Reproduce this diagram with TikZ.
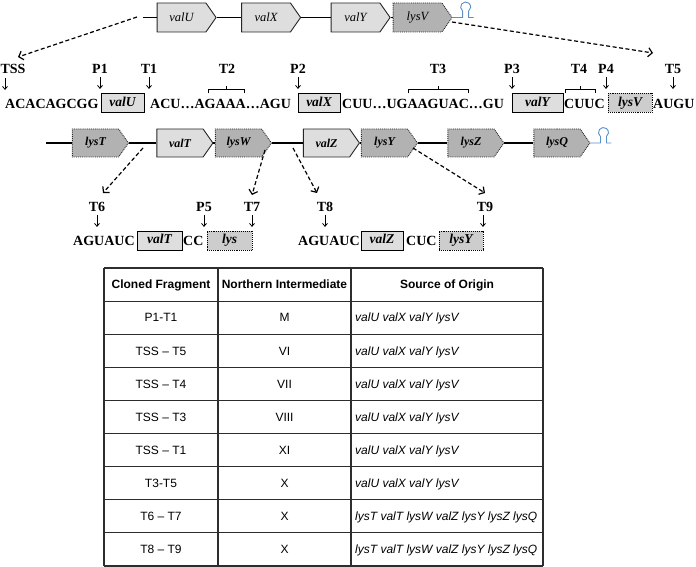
\documentclass[tikz,border=0pt]{standalone}
\usepackage{fontspec}
\setmainfont{Liberation Serif}
\newfontfamily\arialf{Liberation Sans}
\usetikzlibrary{shapes.symbols,arrows.meta}
\definecolor{valfill}{RGB}{222,222,222}
\definecolor{lysfill}{RGB}{178,178,178}
\definecolor{lysfilltwo}{RGB}{205,205,205}
\definecolor{hpblue}{RGB}{91,142,201}
\definecolor{tabline}{RGB}{45,45,45}
\tikzset{
 gene/.style={signal, signal to=east, signal pointer angle=110, minimum height=29pt, minimum width=59pt, inner sep=0pt, line width=0.9pt, draw=black!85},
 valgene/.style={gene, fill=valfill},
 lysgene/.style={gene, fill=lysfill, densely dotted},
 topfont/.style={font=\fontsize{12.5}{14}\selectfont\itshape},
 midfont/.style={font=\fontsize{12}{14}\selectfont\bfseries\itshape, minimum height=28pt, minimum width=56pt},
 seq/.style={anchor=west, inner sep=0pt, font=\fontsize{14}{16}\selectfont\bfseries, text height=9.5pt, text depth=0pt},
 lbl/.style={inner sep=1pt, font=\fontsize{14}{16}\selectfont\bfseries, text height=9.5pt, text depth=0pt},
 sbox/.style={draw, line width=0.9pt, minimum height=19pt, inner sep=0pt, font=\fontsize{13.5}{16}\selectfont\bfseries\itshape, text height=9pt, text depth=2.5pt},
 valbox/.style={sbox, fill=valfill},
 lysbox/.style={sbox, fill=lysfilltwo, densely dotted},
 dna/.style={line width=1.3pt},
 darr/.style={line width=0.8pt, -{Straight Barb[length=3pt,width=5pt]}},
 dasharr/.style={line width=1.2pt, dash pattern=on 4pt off 2.5pt, -{Straight Barb[length=4pt,width=9pt]}},
 brk/.style={line width=1pt},
 tab/.style={line width=1.1pt, draw=tabline},
 tabtxt/.style={inner sep=0pt, font=\arialf\fontsize{12}{14}\selectfont, text height=8.6pt, text depth=0pt},
 tabhead/.style={tabtxt, font=\arialf\fontsize{12}{14}\selectfont\bfseries},
 tabsrc/.style={tabtxt, anchor=west, font=\arialf\fontsize{12}{14}\selectfont\itshape},
 hairpin/.pic={\draw[hpblue, line width=0.9pt] (0,0) -- (10,0) -- (10,-6.5) arc[start angle=233.13, end angle=-53.13, radius=5pt] -- (16,0) -- (21,0);}
}
\begin{document}
\begin{tikzpicture}[x=1pt,y=-1pt]
\useasboundingbox (0,0) rectangle (696,567);
% ---- top operon ----
\node[valgene, topfont] (gU) at (181.5,17.5) {valU};
\node[valgene, topfont] (gX) at (266,17.5) {valX};
\node[valgene, topfont] (gY) at (355.5,17.5) {valY};
\node[lysgene, topfont] (gV) at (417.5,17.5) {lysV};
\coordinate (L0) at (143,17.5);
\draw[dna] (L0) -- (gU.west);
\draw[dna] (gU.east) -- (gX.west);
\draw[dna] (gX.east) -- (gY.west);
\draw[dna] (gY.east) -- (gV.west);
\pic at (gV.east) {hairpin};
% ---- row 2 labels ----
\node[lbl] (TSS) at (13,69) {TSS};
\node[lbl] (P1) at (100,69) {P1};
\node[lbl] (T1) at (149,69) {T1};
\node[lbl] (T2) at (227,69) {T2};
\node[lbl] (P2) at (298,69) {P2};
\node[lbl] (T3) at (438,69) {T3};
\node[lbl] (P3) at (512,69) {P3};
\node[lbl] (T4) at (579,69) {T4};
\node[lbl] (P4) at (606,69) {P4};
\node[lbl] (T5) at (673,69) {T5};
% ---- row 2 sequence ----
\node[seq] (s1) at (5,103.5) {ACACAGCGG};
\node[valbox, minimum width=43pt] (b1) at (122.5,103) {valU};
\node[seq] (s2) at (150,103.5) {ACU…AGAAA…AGU};
\node[valbox, minimum width=42pt] (b2) at (319,103) {valX};
\node[seq] (s3) at (342,103.5) {CUU…UGAAGUAC…GU};
\node[valbox, minimum width=51pt] (b3) at (537.5,103) {valY};
\node[seq] (s4) at (564,103.5) {CUUC};
\node[lysbox, minimum width=44pt] (b4) at (630,103) {lysV};
\node[seq] (s5) at (653,103.5) {AUGU};
% down arrows row 2
\draw[darr] (5,78) -- (5,90);
\draw[darr] (P1.south) ++(0,2) -- ++(0,12);
\draw[darr] (T1.south) ++(0,2) -- ++(0,12);
\draw[darr] (P2.south) ++(0,2) -- ++(0,12);
\draw[darr] (P3.south) ++(0,2) -- ++(0,12);
\draw[darr] (P4.south) ++(0,2) -- ++(0,12);
\draw[darr] (T5.south) ++(0,2) -- ++(0,12);
% brackets
\draw[brk] (208,93.5) -- (208,89.5) -- (244,89.5) -- (244,93.5);
\draw[brk] (226,89.5) -- (226,86.5);
\draw[brk] (408,93.5) -- (408,89.5) -- (468,89.5) -- (468,93.5);
\draw[brk] (438,89.5) -- (438,86.5);
\draw[brk] (565,93.5) -- (565,89.5) -- (595,89.5) -- (595,93.5);
\draw[brk] (580,89.5) -- (580,86.5);
% dashed arrows top
\coordinate (a1s) at (137,17);
\coordinate (a1e) at (18,57);
\draw[dasharr] (a1s) -- (a1e);
\coordinate (a2s) at (452,22);
\coordinate (a2e) at (653,53);
\draw[dasharr] (a2s) -- (a2e);
% ---- row 3 operon ----
\node[lysgene, midfont] (hT) at (95.5,143) {lysT};
\node[valgene, midfont] (tT) at (180,143) {valT};
\node[lysgene, midfont] (hW) at (238.5,143) {lysW};
\node[valgene, midfont] (tZ) at (326.5,143) {valZ};
\node[lysgene, midfont] (hY) at (384.5,143) {lysY};
\node[lysgene, midfont] (hZ) at (471,143) {lysZ};
\node[lysgene, midfont] (hQ) at (557,143) {lysQ};
\coordinate (L1) at (46,143);
\draw[dna] (L1) -- (hT.west);
\draw[dna] (hT.east) -- (tT.west);
\draw[dna] (tT.east) -- (hW.west);
\draw[dna] (hW.east) -- (tZ.west);
\draw[dna] (tZ.east) -- (hY.west);
\draw[dna] (hY.east) -- (hZ.west);
\draw[dna] (hZ.east) -- (hQ.west);
\pic at (hQ.east) {hairpin};
% dashed arrows row 3
\coordinate (b1s) at (143,148); \coordinate (b1e) at (103,193);
\coordinate (b2s) at (265,150); \coordinate (b2e) at (252,195);
\coordinate (b3s) at (293,148); \coordinate (b3e) at (317,193);
\coordinate (b4s) at (413,148); \coordinate (b4e) at (485,193);
\draw[dasharr] (b1s) -- (b1e);
\draw[dasharr] (b2s) -- (b2e);
\draw[dasharr] (b3s) -- (b3e);
\draw[dasharr] (b4s) -- (b4e);
% ---- row 4 labels ----
\node[lbl] (T6) at (97,207) {T6};
\node[lbl] (P5) at (204,207) {P5};
\node[lbl] (T7) at (252,207) {T7};
\node[lbl] (T8) at (325,207) {T8};
\node[lbl] (T9) at (485,207) {T9};
\draw[darr] (T6.south) ++(0,2) -- ++(0,12);
\draw[darr] (P5.south) ++(0,2) -- ++(0,12);
\draw[darr] (T7.south) ++(0,2) -- ++(0,12);
\draw[darr] (T8.south) ++(0,2) -- ++(0,12);
\draw[darr] (T9.south) ++(-2,2) -- ++(0,12);
% ---- row 4 sequences ----
\node[seq] (u1) at (73,240.5) {AGUAUC};
\node[valbox, minimum width=45pt] (c1) at (159.5,240.5) {valT};
\node[seq] (u2) at (183,240.5) {CC};
\node[lysbox, minimum width=45pt] (c2) at (229.5,240.5) {lys};
\node[seq] (u3) at (298,240.5) {AGUAUC};
\node[valbox, minimum width=42pt] (c3) at (382,240.5) {valZ};
\node[seq] (u4) at (406,240.5) {CUC};
\node[lysbox, minimum width=44pt] (c4) at (461,240.5) {lysY};
% ---- table ----
\foreach \r in {0,...,9} \draw[tab] (104,{268+33.11*\r}) -- (543,{268+33.11*\r});
\foreach \x in {104,218,351,543} \draw[tab] (\x,268) -- (\x,566);
\node[tabhead] (h1) at (161,284.5) {Cloned Fragment};
\node[tabhead] (h2) at (284.5,284.5) {Northern Intermediate};
\node[tabhead] (h3) at (447,284.5) {Source of Origin};
\foreach \i/\a/\b/\c in {
 1/P1-T1/M/{valU valX valY lysV},
 2/TSS – T5/VI/{valU valX valY lysV},
 3/TSS – T4/VII/{valU valX valY lysV},
 4/TSS – T3/VIII/{valU valX valY lysV},
 5/TSS – T1/XI/{valU valX valY lysV},
 6/T3-T5/X/{valU valX valY lysV},
 7/T6 – T7/X/{lysT valT lysW valZ lysY lysZ lysQ},
 8/T8 – T9/X/{lysT valT lysW valZ lysY lysZ lysQ}} {
 \node[tabtxt] (r\i a) at (161,{268+33.11*(\i+0.5)}) {\a};
 \node[tabtxt] (r\i b) at (284.5,{268+33.11*(\i+0.5)}) {\b};
 \node[tabsrc] (r\i c) at (355,{268+33.11*(\i+0.5)}) {\c};
}
\end{tikzpicture}
\end{document}
